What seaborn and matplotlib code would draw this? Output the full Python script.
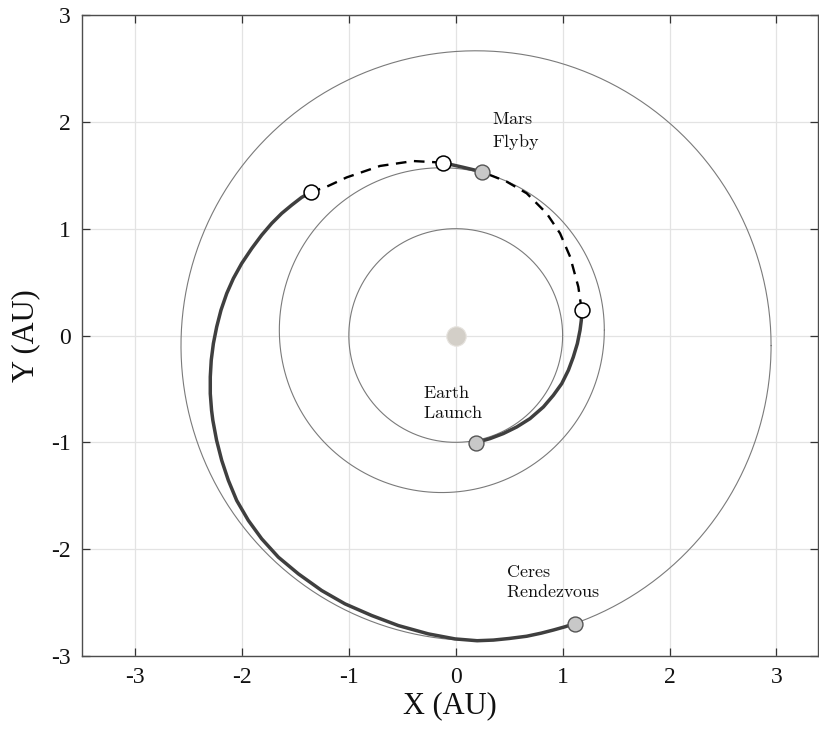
import numpy as np
import pandas as pd
import matplotlib
matplotlib.use("Agg")
import matplotlib.pyplot as plt
import seaborn as sns

# ---------------- data (AU) ----------------
orbit_names = ["Earth", "Mars", "Ceres"]
orbit_cx = [0.0, -0.13, 0.19]
orbit_cy = [0.0, 0.05, -0.095]
orbit_r = [1.0, 1.52, 2.76]

# trajectory segments (thrust = solid, coast = dashed)
thrust1_x = [0.187, 0.321, 0.445, 0.571, 0.695, 0.820, 0.913, 0.992, 1.054,
             1.100, 1.138, 1.163, 1.175, 1.178]
thrust1_y = [-1.003, -0.965, -0.918, -0.856, -0.778, -0.669, -0.560, -0.450, -0.325,
             -0.201, -0.075, 0.050, 0.143, 0.24]

coast1_x = [1.178, 1.147, 1.07, 0.976, 0.851, 0.664, 0.477, 0.243]
coast1_y = [0.24, 0.455, 0.737, 0.956, 1.143, 1.331, 1.44, 1.533]

thrust2_x = [0.243, 0.071, -0.122]
thrust2_y = [1.533, 1.574, 1.618]

coast2_x = [-0.122, -0.397, -0.708, -1.02, -1.207, -1.350]
coast2_y = [1.618, 1.633, 1.587, 1.48, 1.393, 1.343]

thrust3_x = [-1.350, -1.441, -1.534, -1.628, -1.721, -1.815, -1.908, -2.002, -2.080,
             -2.142, -2.196, -2.236, -2.267, -2.287, -2.296, -2.296, -2.284, -2.272,
             -2.237, -2.189, -2.127, -2.049, -1.940, -1.815, -1.659, -1.472, -1.254,
             -1.036, -0.786, -0.537, -0.256, -0.007, 0.20, 0.352, 0.50, 0.664, 0.80,
             0.913, 1.02, 1.116]
thrust3_y = [1.343, 1.293, 1.221, 1.143, 1.050, 0.940, 0.815, 0.675, 0.534,
             0.394, 0.237, 0.081, -0.075, -0.231, -0.388, -0.544, -0.700, -0.794,
             -0.981, -1.169, -1.356, -1.544, -1.731, -1.903, -2.075, -2.231, -2.387,
             -2.512, -2.621, -2.715, -2.793, -2.840, -2.857, -2.851, -2.836, -2.815, -2.786,
             -2.757, -2.727, -2.697]

# events
event_x = [0.187, 0.243, 1.116]
event_y = [-1.003, 1.533, -2.697]
event_labels = ["Earth\nLaunch", "Mars\nFlyby", "Ceres\nRendezvous"]
label_x = [-0.31, 0.34, 0.47]
label_y = [-0.46, 2.10, -2.14]

# thrust/coast switch points
switch_x = [1.178, -0.122, -1.350]
switch_y = [0.24, 1.618, 1.343]

sun_x = [0.0]
sun_y = [0.0]

xticks = [-3, -2, -1, 0, 1, 2, 3]
yticks = [-3, -2, -1, 0, 1, 2, 3]

# ---------------- plot ----------------
sns.set_style("whitegrid")
plt.rcParams["font.family"] = ["Liberation Serif", "DejaVu Serif"]
plt.rcParams["mathtext.fontset"] = "cm"

fig = plt.figure(figsize=(8.19, 7.30), dpi=100)
ax = fig.add_axes([82 / 819, 1 - 656 / 730, 736 / 819, 641 / 730])

# orbits
theta = np.linspace(0, 2 * np.pi, 400)
for name, cx, cy, r in zip(orbit_names, orbit_cx, orbit_cy, orbit_r):
    df = pd.DataFrame({"x": cx + r * np.cos(theta), "y": cy + r * np.sin(theta)})
    sns.lineplot(data=df, x="x", y="y", sort=False, estimator=None, ax=ax,
                 color="#7a7a7a", linewidth=0.8, zorder=2)

def seg(xs, ys, dashed):
    df = pd.DataFrame({"x": xs, "y": ys})
    if dashed:
        sns.lineplot(data=df, x="x", y="y", sort=False, estimator=None, ax=ax,
                     color="black", linewidth=1.7, zorder=3, dashes=False,
                     linestyle=(0, (4.5, 3.2)))
    else:
        ln = sns.lineplot(data=df, x="x", y="y", sort=False, estimator=None, ax=ax,
                          color="#3f3f3f", linewidth=2.5, zorder=3)
        ln.lines[-1].set_solid_joinstyle("round")
        ln.lines[-1].set_solid_capstyle("round")

seg(thrust1_x, thrust1_y, False)
seg(coast1_x, coast1_y, True)
seg(thrust2_x, thrust2_y, False)
seg(coast2_x, coast2_y, True)
seg(thrust3_x, thrust3_y, False)

# sun
ax.plot(sun_x, sun_y, "o", color="#d3cfc8", markersize=14, markeredgecolor="#e6e3de",
        markeredgewidth=0.8, zorder=4)

# event markers
sns.scatterplot(x=event_x, y=event_y, ax=ax, s=115, color="#c8c8c8",
                edgecolor="#555555", linewidth=1.0, zorder=5)
sns.scatterplot(x=switch_x, y=switch_y, ax=ax, s=115, color="white",
                edgecolor="black", linewidth=1.1, zorder=5)

for lx, ly, t in zip(label_x, label_y, event_labels):
    txt = "\n".join(r"$\mathrm{%s}$" % line for line in t.split("\n"))
    ax.text(lx, ly, txt, fontsize=13, ha="left", va="top", color="#111111",
            linespacing=1.25, zorder=6)

ax.set_xlim(-3.496, 3.389)
ax.set_ylim(-3.0, 3.0)
ax.set_xticks(xticks)
ax.set_yticks(yticks)
ax.set_xticklabels([str(v) for v in xticks])
ax.set_yticklabels([str(v) for v in yticks])
ax.grid(True, color="#e3e3e3", linewidth=0.9)
ax.set_axisbelow(True)

for s in ax.spines.values():
    s.set_visible(True)
    s.set_color("#4d4d4d")
    s.set_linewidth(1.0)

ax.tick_params(direction="in", length=5.5, width=0.9, color="#333333",
               top=True, right=True, bottom=True, left=True,
               labelsize=17, pad=8, labelcolor="#111111")

ax.set_xlabel("X (AU)", fontsize=22, color="#111111", labelpad=2)
ax.set_ylabel("Y (AU)", fontsize=22, color="#111111", labelpad=8)

fig.savefig("out.png", dpi=100)
